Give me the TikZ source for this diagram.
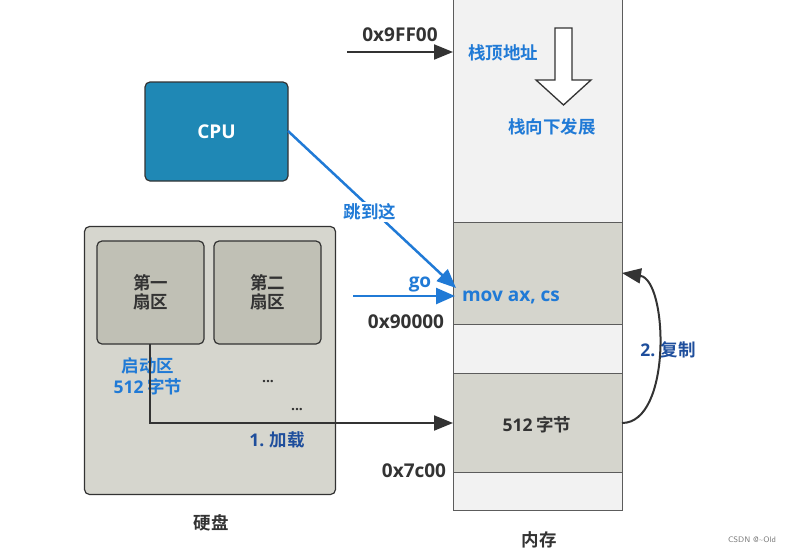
\documentclass[tikz,border=0pt]{standalone}
\usepackage{fontspec}
\setmainfont{Open Sans}[UprightFont=* Bold]
\newfontfamily\latf{Open Sans}[UprightFont=* Bold]
\newfontfamily\cjk{Noto Sans CJK SC}[UprightFont=* Bold]
\usetikzlibrary{arrows.meta}
\definecolor{dark}{RGB}{51,51,51}
\definecolor{lblue}{RGB}{32,122,214}
\definecolor{dblue}{RGB}{30,78,156}
\definecolor{cpufill}{RGB}{31,136,181}
\definecolor{diskfill}{RGB}{214,214,206}
\definecolor{secfill}{RGB}{192,192,181}
\definecolor{memfill}{RGB}{242,242,242}
\definecolor{blkfill}{RGB}{213,213,205}
\definecolor{wm}{RGB}{120,120,120}
\tikzset{
  lat/.style={font=\latf\fontsize{19}{22}\selectfont, text=dark, inner sep=0pt},
  cj/.style={font=\cjk\fontsize{17.5}{21}\selectfont, text=dark, inner sep=0pt, align=center},
  roundbox/.style={draw=dark, line width=1.2pt, rounded corners=5pt},
  blackarrow/.style={draw=dark, line width=2pt, -{Triangle[length=19pt,width=15pt]}},
  bluearrow/.style={draw=lblue, line width=2.5pt, -{Triangle[length=19pt,width=16pt]}},
  memline/.style={draw=dark!80, line width=1pt},
}
\begin{document}
\begin{tikzpicture}[x=1pt,y=-1pt]
\useasboundingbox (0,0) rectangle (792,552);
% memory column
\fill[memfill] (453,0) rectangle (622,510);
\fill[blkfill] (453,222) rectangle (622,324);
\fill[blkfill] (453,373) rectangle (622,472);
\draw[memline] (453,0) -- (453,510) -- (622,510) -- (622,0);
\draw[memline] (453,222) -- (622,222) (453,324) -- (622,324);
\draw[memline] (453,373) -- (622,373) (453,472) -- (622,472);
\coordinate (memtop) at (453,52);
\coordinate (memgo) at (455,296);
\coordinate (memload) at (453,423);
\coordinate (blk2r) at (622,423);
\coordinate (blk1r) at (622,273);

% hollow arrow
\draw[dark, line width=1.3pt, fill=white] (555,28) -- (572,28) -- (572,80) -- (591,80) -- (563.5,105) -- (536,80) -- (555,80) -- cycle;

% CPU
\node[roundbox, fill=cpufill, minimum width=143pt, minimum height=99pt, font=\latf\fontsize{19}{22}\selectfont, text=white] (cpu) at (216.5,131.5) {CPU};

% disk
\node[roundbox, fill=diskfill, minimum width=251pt, minimum height=268pt] (disk) at (210,360.5) {};
\node[roundbox, fill=secfill, minimum width=107pt, minimum height=103pt] (sec1) at (150.5,292.5) {};
\node[roundbox, fill=secfill, minimum width=107pt, minimum height=103pt] (sec2) at (267.5,292.5) {};
\node[cj] (s1t) at (150.5,292) {第一\\[-2pt]扇区};
\node[cj] (s2t) at (267.5,292) {第二\\[-2pt]扇区};
\node[cj, text=lblue] (boot1) at (148,366) {启动区};
\node[cj, text=lblue] (boot2) at (148,387) {{\latf 512} 字节};
\node[lat, font=\latf\fontsize{14}{16}\selectfont] (dots1) at (268,382) {...};
\node[lat, font=\latf\fontsize{14}{16}\selectfont] (dots2) at (297,410) {...};
\node[cj] (disklbl) at (211,523) {硬盘};

% memory labels
\node[lat] (a9ff) at (400,35) {0x9FF00};
\node[cj, text=lblue] (stop) at (503,53) {栈顶地址};
\node[cj, text=lblue] (sgrow) at (552,127) {栈向下发展};
\node[lat] (a9) at (406,322) {0x90000};
\node[lat] (a7c) at (414,471) {0x7c00};
\node[lat, text=lblue] (mov) at (511,297) {mov ax, cs};
\node[cj] (b512) at (537,425) {{\latf 512} 字节};
\node[cj] (memlbl) at (539,540) {内存};
\node[lat, text=lblue] (go) at (420,284) {go};
\node[cj, text=dblue] (load) at (277,440) {{\latf 1.} 加载};
\node[cj, text=dblue] (copy) at (668,350) {{\latf 2.} 复制};

% arrows
\coordinate (a9start) at (347,52);
\draw[blackarrow] (a9start) -- (memtop);
\coordinate (gostart) at (353,296);
\draw[bluearrow] (gostart) -- (memgo);
\coordinate (cpuout) at (288,131);
\coordinate (jumpend) at (456,288);
\draw[bluearrow] (cpuout) -- (jumpend);
\node[cj, text=lblue, fill=white, inner sep=2pt] (jump) at (370,212) {跳到这};
\coordinate (sec1bot) at (150,344);
\draw[blackarrow, rounded corners=0pt] (sec1bot) |- (memload);
\draw[blackarrow] (blk2r) .. controls (672,423) and (668,280) .. (blk1r);

\node[font=\fontsize{8}{9}\selectfont\sffamily, text=wm] (wmk) at (752,540) {CSDN @\textasciitilde Old};
\end{tikzpicture}
\end{document}
